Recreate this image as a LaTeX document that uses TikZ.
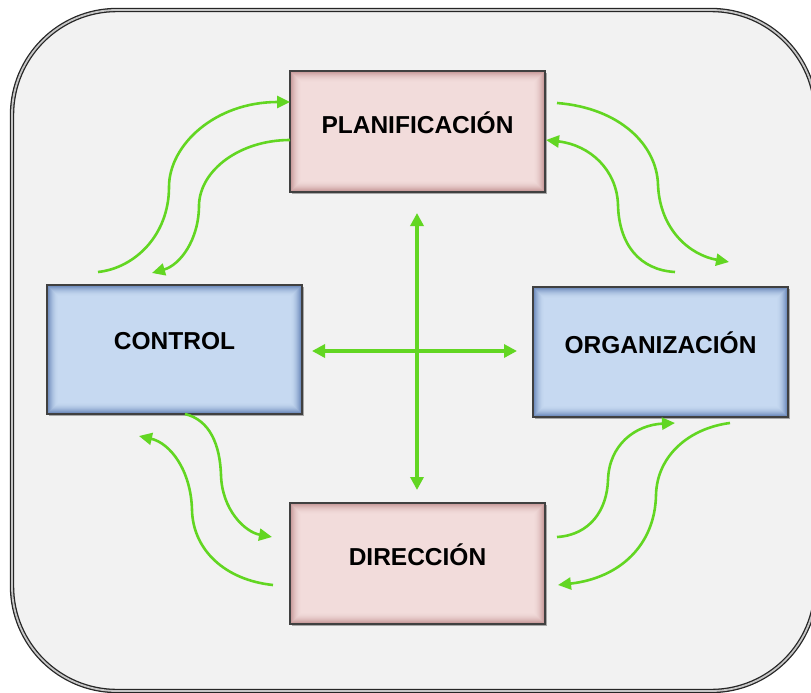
\documentclass[tikz,border=0pt]{standalone}
\usepackage{fontspec}
\setmainfont{Liberation Sans}
\usetikzlibrary{arrows.meta,shadows}
\definecolor{framebg}{RGB}{242,242,242}
\definecolor{boxblue}{RGB}{198,217,241}
\definecolor{glowblue}{RGB}{55,90,155}
\definecolor{boxpink}{RGB}{242,220,219}
\definecolor{glowpink}{RGB}{175,115,115}
\definecolor{arrgreen}{RGB}{98,214,34}
\tikzset{
  glow/.style={path picture={
    \foreach \i in {0.5,1.5,...,11.5}{
      \pgfmathsetmacro\op{0.75*(1-\i/12)^2}
      \draw[draw=#1,line width=1.05pt,opacity=\op]
        ([xshift=\i pt,yshift=\i pt]path picture bounding box.south west) rectangle
        ([xshift=-\i pt,yshift=-\i pt]path picture bounding box.north east);
    }}},
  boxbase/.style={draw=black!75,line width=1.3pt,inner sep=0pt,minimum width=255pt,
    drop shadow={shadow xshift=2pt,shadow yshift=-2pt,opacity=0.45,fill=black!70}},
  bluebox/.style={boxbase,fill=boxblue,glow=glowblue},
  pinkbox/.style={boxbase,fill=boxpink,glow=glowpink},
  lbl/.style={font=\fontsize{24.5}{28}\selectfont\bfseries,text=black,inner sep=0pt},
  bigarr/.style={draw=arrgreen,line width=4pt,{Triangle[length=13pt,width=13pt]}-{Triangle[length=13pt,width=13pt]}},
  curvarr/.style={draw=arrgreen,line width=2.6pt,-{Triangle[length=13pt,width=12pt]}},
}
\begin{document}
\begin{tikzpicture}[x=1pt,y=-1pt]
\useasboundingbox (0,0) rectangle (811,693);
% outer frame
\draw[draw=black!85,line width=1.3pt,double=gray!45,double distance=1.8pt,
      fill=framebg,rounded corners=105pt] (12,10) rectangle (816,691);
% boxes
\node[pinkbox,minimum height=121pt] (plan) at (417.5,131.5) {};
\node[bluebox,minimum height=129pt] (ctrl) at (174.5,349.5) {};
\node[bluebox,minimum height=130pt] (org) at (660.5,352) {};
\node[pinkbox,minimum height=121pt] (dir) at (417.5,563.5) {};
\node[lbl] (planT) at ([yshift=9pt]plan.center) {PLANIFICACIÓN};
\node[lbl] (ctrlT) at ([yshift=8.5pt]ctrl.center) {CONTROL};
\node[lbl] (orgT) at ([yshift=9pt]org.center) {ORGANIZACIÓN};
\node[lbl] (dirT) at ([yshift=8.5pt]dir.center) {DIRECCIÓN};
% central cross
\coordinate (vTop) at (417,213);
\coordinate (vBot) at (417,490);
\coordinate (hL) at (312,351);
\coordinate (hR) at (517,351);
\draw[bigarr] (vTop) -- (vBot);
\draw[bigarr] (hL) -- (hR);
% curved arrows: top-left
\coordinate (a1s) at (98,272);
\coordinate (a1e) at (290,102);
\draw[curvarr] (a1s) .. controls (135,268) and (169,235) .. (169,187)
  .. controls (169,145) and (215,102) .. (a1e);
\coordinate (a2s) at (290,140);
\coordinate (a2e) at (152,273);
\draw[curvarr] (a2s) .. controls (240,140) and (200,170) .. (199,205)
  .. controls (199,240) and (180,265) .. (a2e);
% top-right
\coordinate (a3s) at (557,103);
\coordinate (a3e) at (729,262);
\draw[curvarr] (a3s) .. controls (620,108) and (657,145) .. (658,185)
  .. controls (660,230) and (690,255) .. (a3e);
\coordinate (a4s) at (675,272);
\coordinate (a4e) at (546,140);
\draw[curvarr] (a4s) .. controls (640,270) and (619,245) .. (618,205)
  .. controls (617,170) and (590,145) .. (a4e);
% bottom-left
\coordinate (a5s) at (185,414);
\coordinate (a5e) at (272,537);
\draw[curvarr] (a5s) .. controls (210,420) and (220,445) .. (221,475)
  .. controls (222,510) and (245,532) .. (a5e);
\coordinate (a6s) at (273,585);
\coordinate (a6e) at (139,436);
\draw[curvarr] (a6s) .. controls (225,580) and (193,550) .. (192,510)
  .. controls (191,470) and (170,443) .. (a6e);
% bottom-right
\coordinate (a7s) at (557,537);
\coordinate (a7e) at (675,423);
\draw[curvarr] (a7s) .. controls (590,535) and (607,510) .. (608,480)
  .. controls (609,445) and (635,425) .. (a7e);
\coordinate (a8s) at (730,423);
\coordinate (a8e) at (558,585);
\draw[curvarr] (a8s) .. controls (690,428) and (657,455) .. (656,495)
  .. controls (655,545) and (620,578) .. (a8e);
\end{tikzpicture}
\end{document}
